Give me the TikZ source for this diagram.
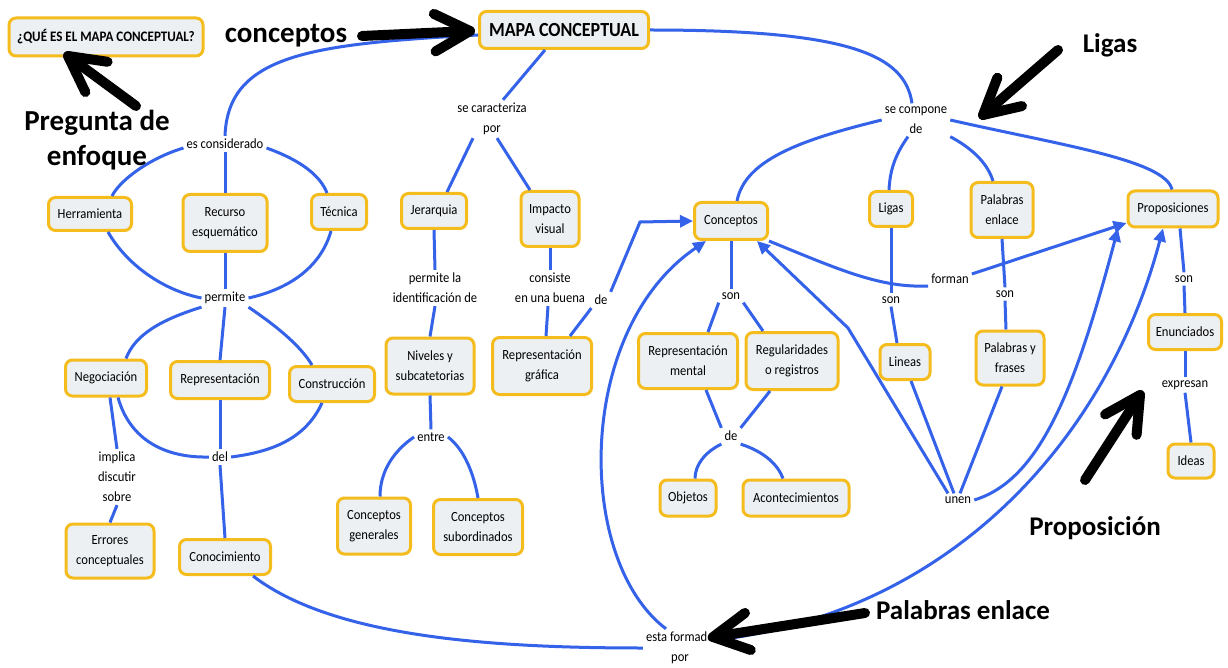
\documentclass[tikz,border=0pt]{standalone}
\usepackage{fontspec}
\setmainfont{Carlito}[FakeStretch=0.9]
\newfontfamily\annfont{Carlito}
\usetikzlibrary{arrows.meta,calc}
\definecolor{cblue}{RGB}{52,98,232}
\definecolor{cyel}{RGB}{244,188,28}
\definecolor{cfill}{RGB}{236,240,243}
\tikzset{
 cbox/.style={draw=cyel, line width=3pt, fill=cfill, rounded corners=7pt, align=center, inner sep=1pt, font=\fontsize{14}{20}\selectfont},
 wh/.style 2 args={minimum width=#1pt, minimum height=#2pt},
 lbl/.style={align=center, inner sep=3pt, font=\fontsize{14}{20}\selectfont},
 ann/.style={font=\annfont\bfseries\fontsize{27}{35}\selectfont, align=center, inner sep=0pt},
 annbig/.style={ann, font=\annfont\bfseries\fontsize{29}{35}\selectfont},
 conn/.style={draw=cblue, line width=3pt},
 carr/.style={conn, -{Triangle[length=13pt,width=12pt]}},
 bigarr/.style={line width=10pt, line cap=round, line join=round, draw=black},
}
\newcommand\bigarrow[2]{\draw[bigarr] (#1) -- (#2);
 \draw[bigarr] ($(#2)!40pt!28:(#1)$) -- (#2) -- ($(#2)!40pt!-28:(#1)$);}
\begin{document}
\begin{tikzpicture}[x=1pt,y=-1pt]
\useasboundingbox[fill=white] (0,0) rectangle (1228,668);
% concept boxes
\node[cbox,wh={194}{38},font=\bfseries\fontsize{14.5}{16}\selectfont] (preg) at (106,37) {¿QUÉ ES EL MAPA CONCEPTUAL?};
\node[cbox,wh={169}{37},font=\bfseries\fontsize{20}{22}\selectfont] (mapa) at (564,30) {MAPA CONCEPTUAL};
\node[cbox,wh={83}{33}] (herr) at (90,214) {Herramienta};
\node[cbox,wh={84}{57}] (recurso) at (225,223) {Recurso\\esquemático};
\node[cbox,wh={55}{35}] (tecnica) at (339,212) {Técnica};
\node[cbox,wh={65}{35}] (jer) at (434,211) {Jerarquia};
\node[cbox,wh={58}{55}] (impacto) at (550,219) {Impacto\\visual};
\node[cbox,wh={73}{37}] (conceptos) at (731,221) {Conceptos};
\node[cbox,wh={43}{35}] (ligas) at (891,209) {Ligas};
\node[cbox,wh={62}{55}] (pale) at (1002,210) {Palabras\\enlace};
\node[cbox,wh={90}{36}] (prop) at (1173,209) {Proposiciones};
\node[cbox,wh={81}{36}] (neg) at (106,378) {Negociación};
\node[cbox,wh={99}{37}] (repr) at (220,380) {Representación};
\node[cbox,wh={85}{35}] (constr) at (332,384) {Construcción};
\node[cbox,wh={88}{56}] (niveles) at (430,366) {Niveles y\\subcatetorias};
\node[cbox,wh={99}{57}] (repgraf) at (542,366) {Representación\\gráfica};
\node[cbox,wh={99}{55}] (rment) at (688,361) {Representación\\mental};
\node[cbox,wh={92}{57}] (regul) at (792,361) {Regularidades\\o registros};
\node[cbox,wh={50}{35}] (lineas) at (905,362) {Lineas};
\node[cbox,wh={68}{54}] (pyf) at (1010,358) {Palabras y\\frases};
\node[cbox,wh={73}{35}] (enun) at (1185,332) {Enunciados};
\node[cbox,wh={46}{34}] (ideas) at (1191,461) {Ideas};
\node[cbox,wh={88}{54}] (errores) at (110,551) {Errores\\conceptuales};
\node[cbox,wh={91}{35}] (conoc) at (225,557) {Conocimiento};
\node[cbox,wh={73}{56}] (cgen) at (374,526) {Conceptos\\generales};
\node[cbox,wh={89}{55}] (csub) at (478,527) {Conceptos\\subordinados};
\node[cbox,wh={56}{36}] (obj) at (688,498) {Objetos};
\node[cbox,wh={106}{36}] (acont) at (796,498) {Acontecimientos};
% link labels
\node[lbl] (escons) at (225,144) {es considerado};
\node[lbl] (secar) at (492,119) {se caracteriza\\por};
\node[lbl] (secomp) at (916,120) {se compone\\de};
\node[lbl] (permite) at (225,298) {permite};
\node[lbl] (permla) at (435,288) {permite la\\identificación de};
\node[lbl] (consiste) at (550,288) {consiste\\en una buena};
\node[lbl] (de1) at (601,300) {de};
\node[lbl] (son1) at (731,296) {son};
\node[lbl] (forman) at (950,279) {forman};
\node[lbl] (son2) at (891,300) {son};
\node[lbl] (son3) at (1005,294) {son};
\node[lbl] (son4) at (1184,279) {son};
\node[lbl] (expr) at (1185,385) {expresan};
\node[lbl] (del) at (220,457) {del};
\node[lbl] (implica) at (117,477) {implica\\discutir\\sobre};
\node[lbl] (entre) at (431,437) {entre};
\node[lbl] (de2) at (731,436) {de};
\node[lbl] (unen) at (958,500) {unen};
\node[lbl] (estaf) at (680,648) {esta formado\\por};
% connectors
\draw[conn] ([yshift=-5pt]mapa.west) .. controls (310,44) and (228,55) .. (escons.north);
\draw[conn] ([yshift=-4pt]escons.west) .. controls (150,158) and (120,180) .. ([xshift=22pt]herr.north);
\draw[conn] (escons.south) -- (recurso.north);
\draw[conn] ([yshift=-4pt]escons.east) .. controls (300,160) and (320,175) .. ([xshift=-12pt]tecnica.north);
\draw[conn] ([xshift=18pt]herr.south) .. controls (130,270) and (170,292) .. (permite.west);
\draw[conn] (recurso.south) -- (permite.north);
\draw[conn] ([xshift=-8pt]tecnica.south) .. controls (320,270) and (285,290) .. (permite.east);
\draw[conn] (permite.south west) .. controls (160,320) and (135,335) .. ([xshift=20pt]neg.north);
\draw[conn] (permite.south) -- (repr.north);
\draw[conn] (permite.south east) .. controls (275,325) and (300,345) .. ([xshift=-20pt]constr.north);
\draw[conn] ([xshift=12pt]neg.south) .. controls (130,440) and (165,458) .. (del.west);
\draw[conn] (repr.south) -- (del.north);
\draw[conn] ([xshift=-10pt]constr.south) .. controls (305,440) and (270,452) .. (del.east);
\draw[conn] (del.south) -- (conoc.north);
\draw[conn] ([xshift=4pt]neg.south) -- (implica.north);
\draw[conn] (implica.south) -- (errores.north);
\draw[conn] ([xshift=28pt]conoc.south) .. controls (330,635) and (480,648) .. (estaf.west);
\draw[carr] ([xshift=-14pt]estaf.north) .. controls (575,560) and (575,330) .. ([xshift=-25pt]conceptos.south);
\draw[conn] ([xshift=28pt]repgraf.north) -- (de1.south west);
\coordinate (bend1) at (640,222);
\draw[carr] (de1.north east) -- (bend1) -- (conceptos.west);
\draw[conn] (impacto.south) -- (consiste.north);
\draw[conn] ([xshift=-2pt]consiste.south) -- ([xshift=4pt]repgraf.north);
\draw[conn] (jer.south) -- (permla.north);
\draw[conn] (permla.south) -- (niveles.north);
\draw[conn] (niveles.south) -- (entre.north);
\draw[conn] (entre.west) .. controls (395,450) and (380,470) .. ([xshift=6pt]cgen.north);
\draw[conn] (entre.east) .. controls (465,450) and (474,475) .. (csub.north);
\draw[conn] ([xshift=-19pt]mapa.south) -- ([xshift=11pt]secar.north);
\draw[conn] ([xshift=-19pt]secar.south) -- ([xshift=13pt]jer.north);
\draw[conn] ([xshift=5pt]secar.south) -- ([xshift=-20pt]impacto.north);
\draw[conn] (mapa.east) .. controls (850,30) and (905,55) .. ([xshift=-4pt]secomp.north);
\draw[conn] (secomp.west) .. controls (800,140) and (745,160) .. ([xshift=6pt]conceptos.north);
\draw[conn] ([xshift=-8pt]secomp.south) .. controls (895,155) and (890,170) .. ([xshift=-2pt]ligas.north);
\draw[conn] (secomp.south east) .. controls (975,150) and (988,165) .. ([xshift=-9pt]pale.north);
\draw[conn] (secomp.east) .. controls (1060,145) and (1165,160) .. ([xshift=-1pt]prop.north);
\draw[conn] (conceptos.south) -- (son1.north);
\draw[conn] (son1.south west) -- ([xshift=20pt]rment.north);
\draw[conn] (son1.south east) -- ([xshift=-29pt]regul.north);
\draw[conn] ([xshift=18pt]rment.south) -- (de2.north west);
\draw[conn] ([xshift=-22pt]regul.south) -- (de2.north east);
\draw[conn] (de2.south west) .. controls (705,452) and (695,465) .. ([xshift=7pt]obj.north);
\draw[conn] (de2.south east) .. controls (765,452) and (778,465) .. ([xshift=-13pt]acont.north);
\draw[conn] (conceptos.south east) .. controls (840,270) and (880,288) .. ([yshift=-7pt]forman.west);
\draw[carr] ([yshift=5pt]forman.east) -- ([yshift=-14pt]prop.west);
\draw[conn] (ligas.south) -- (son2.north);
\draw[conn] (son2.south) -- ([xshift=-8pt]lineas.north);
\draw[conn] (pale.south) -- (son3.north);
\draw[conn] (son3.south) -- ([xshift=-4pt]pyf.north);
\draw[conn] ([xshift=6pt]lineas.south) -- ([xshift=-4pt]unen.north);
\draw[conn] ([xshift=-8pt]pyf.south) -- ([xshift=2pt]unen.north);
\coordinate (bend2) at (848,328);
\draw[carr] ([xshift=-10pt]unen.north) -- (bend2) -- ([xshift=26pt]conceptos.south);
\draw[carr] (unen.east) .. controls (1040,480) and (1075,390) .. ([xshift=-55pt]prop.south);
\draw[carr] ([yshift=8pt]estaf.east) .. controls (960,610) and (1110,430) .. ([xshift=-10pt]prop.south);
\draw[conn] ([xshift=7pt]prop.south) -- (son4.north);
\draw[conn] (son4.south) -- (enun.north);
\draw[conn] (enun.south) -- (expr.north);
\draw[conn] (expr.south) -- (ideas.north);
% annotations
\node[annbig] (tconc) at (286,36) {conceptos};
\node[annbig] (tpreg) at (97,140) {Pregunta de\\enfoque};
\node[ann] (tligas) at (1110,45) {Ligas};
\node[ann] (tprop) at (1095,528) {Proposición};
\node[ann] (tpal) at (963,610) {Palabras enlace};
\coordinate (a1t) at (362,36); \coordinate (a1h) at (470,31);
\coordinate (a2t) at (136,106); \coordinate (a2h) at (68,56);
\coordinate (a3t) at (1058,50); \coordinate (a3h) at (983,115);
\coordinate (a4t) at (1085,480); \coordinate (a4h) at (1140,395);
\coordinate (a5t) at (865,613); \coordinate (a5h) at (713,637);
\bigarrow{a1t}{a1h}
\bigarrow{a2t}{a2h}
\bigarrow{a3t}{a3h}
\bigarrow{a4t}{a4h}
\bigarrow{a5t}{a5h}
\end{tikzpicture}
\end{document}
